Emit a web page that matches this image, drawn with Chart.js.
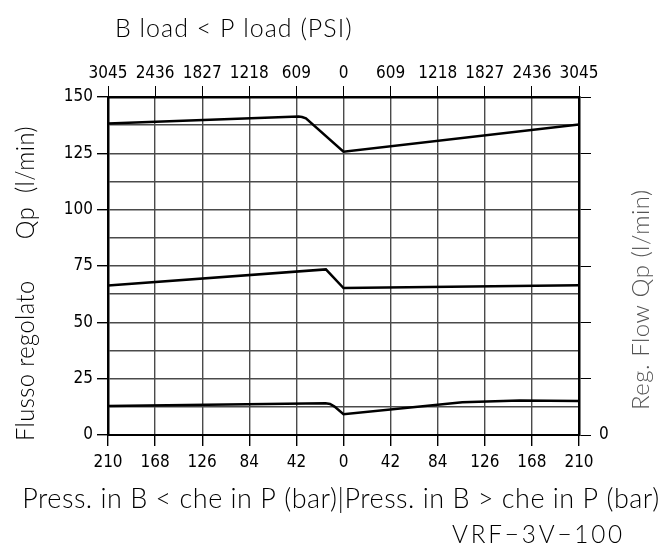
<!DOCTYPE html>
<html>
<head>
<meta charset="utf-8">
<script src="https://cdn.jsdelivr.net/npm/chart.js@4.4.1/dist/chart.umd.min.js"></script>
<style>
  html, body { margin: 0; padding: 0; background: #fff; }
</style>
</head>
<body>
<canvas id="chart" width="670" height="550"></canvas>
<script>
// VRF-3V-100 regulated flow vs. pressure difference B/P
var BAR_TICKS = [-210, -168, -126, -84, -42, 0, 42, 84, 126, 168, 210];
var PSI_LABELS = ["3045", "2436", "1827", "1218", "609", "0", "609", "1218", "1827", "2436", "3045"];

// bar (negative = B < P side), l/min
var HIGH_X = [-210, -40, -37, -33.5, 0, 210];
var HIGH_Y = [138.2, 141.3, 141.1, 140.5, 125.7, 137.8];

var MID_X = [-210, -15.7, 0, 210];
var MID_Y = [66.3, 73.5, 65.2, 66.5];

var LOW_X = [-210, -16, -12, -8, 0, 106, 157, 210];
var LOW_Y = [12.9, 14.1, 13.8, 12.6, 9.2, 14.5, 15.3, 15.1];

var INK = "#000";
var GRID = "#4a4a4a";
var TICK_FONT = { family: "'Liberation Sans Narrow', 'DejaVu Sans Condensed', sans-serif", size: 17 };
var TITLE_FAMILY = "Lato, 'Liberation Sans', sans-serif";

function pts(xs, ys) {
  return xs.map(function (x, i) { return { x: x, y: ys[i] }; });
}

function curve(xs, ys) {
  return {
    data: pts(xs, ys),
    showLine: true,
    borderColor: INK,
    borderWidth: 2.5,
    pointRadius: 0,
    tension: 0,
    xAxisID: "x",
    yAxisID: "y"
  };
}

function isMajor(v) { return Math.abs(v % 25) < 1e-6; }

// titles that sit around the frame
var frameText = {
  id: "frameText",
  afterDraw: function (chart) {
    var c = chart.ctx;
    c.save();
    c.fillStyle = INK;
    c.textBaseline = "middle";

    c.font = "300 25px " + TITLE_FAMILY;
    c.textAlign = "left";
    c.letterSpacing = "1px";
    c.fillText("B load < P load (PSI)", 115, 29, 242);

    c.font = "300 27px " + TITLE_FAMILY;
    c.letterSpacing = "0.5px";
    c.textAlign = "center";
    c.fillText("Press. in B < che in P (bar)|Press. in B > che in P (bar)", 341, 499, 648);

    c.textAlign = "left";
    c.letterSpacing = "3px";
    c.font = "300 26px " + TITLE_FAMILY;
    c.fillText("VRF\u22123V\u2212100", 452, 535, 173);
    c.letterSpacing = "0.5px";

    // left axis title
    c.save();
    c.translate(26, 441);
    c.rotate(-Math.PI / 2);
    c.font = "300 25px " + TITLE_FAMILY;
    c.fillText("Flusso regolato      Qp  (l/min)", 0, 0, 315);
    c.restore();

    // right axis title
    c.save();
    c.translate(641, 410);
    c.rotate(-Math.PI / 2);
    c.fillStyle = "#555";
    c.font = "300 24px " + TITLE_FAMILY;
    c.fillText("Reg. Flow Qp (l/min)", 0, 0, 226);
    c.restore();

    c.restore();
  }
};

new Chart(document.getElementById("chart"), {
  type: "scatter",
  data: {
    datasets: [curve(HIGH_X, HIGH_Y), curve(MID_X, MID_Y), curve(LOW_X, LOW_Y)]
  },
  options: {
    responsive: false,
    animation: false,
    layout: { padding: 0 },
    plugins: {
      legend: { display: false },
      tooltip: { enabled: false }
    },
    scales: {
      x: {
        type: "linear",
        position: "bottom",
        min: -210,
        max: 210,
        afterBuildTicks: function (s) { s.ticks = BAR_TICKS.map(function (v) { return { value: v }; }); },
        afterFit: function (s) { s.height = 115; },
        ticks: {
          color: INK,
          font: TICK_FONT,
          padding: 6,
          maxRotation: 0,
          callback: function (v) { return String(Math.abs(v)); }
        },
        grid: { color: GRID, lineWidth: 1.4, tickLength: 11, tickColor: INK },
        border: { color: INK, width: 2 }
      },
      x2: {
        type: "linear",
        position: "top",
        min: -210,
        max: 210,
        afterBuildTicks: function (s) { s.ticks = BAR_TICKS.map(function (v) { return { value: v }; }); },
        afterFit: function (s) { s.height = 97; },
        ticks: {
          color: INK,
          font: TICK_FONT,
          padding: 2,
          maxRotation: 0,
          callback: function (v, i) { return PSI_LABELS[i]; }
        },
        grid: { drawOnChartArea: false, tickLength: 11, tickColor: INK },
        border: { color: INK, width: 2.5 }
      },
      y: {
        type: "linear",
        position: "left",
        min: 0,
        max: 150,
        afterFit: function (s) { s.width = 108; },
        ticks: {
          stepSize: 12.5,
          color: INK,
          font: TICK_FONT,
          padding: 4,
          callback: function (v) { return isMajor(v) ? String(v) : ""; }
        },
        grid: {
          color: GRID,
          lineWidth: 1.4,
          tickLength: 11,
          tickColor: function (ctx) { return isMajor(ctx.tick.value) ? INK : "rgba(0,0,0,0)"; }
        },
        border: { color: INK, width: 2.5 }
      },
      y2: {
        type: "linear",
        position: "right",
        min: 0,
        max: 150,
        afterFit: function (s) { s.width = 91; },
        ticks: {
          stepSize: 12.5,
          color: INK,
          font: TICK_FONT,
          padding: 8,
          callback: function (v) { return v === 0 ? "0" : ""; }
        },
        grid: {
          drawOnChartArea: false,
          tickLength: 12,
          tickColor: function (ctx) { return isMajor(ctx.tick.value) ? INK : "rgba(0,0,0,0)"; }
        },
        border: { color: INK, width: 2.5 }
      }
    }
  },
  plugins: [frameText]
});
</script>
</body>
</html>
